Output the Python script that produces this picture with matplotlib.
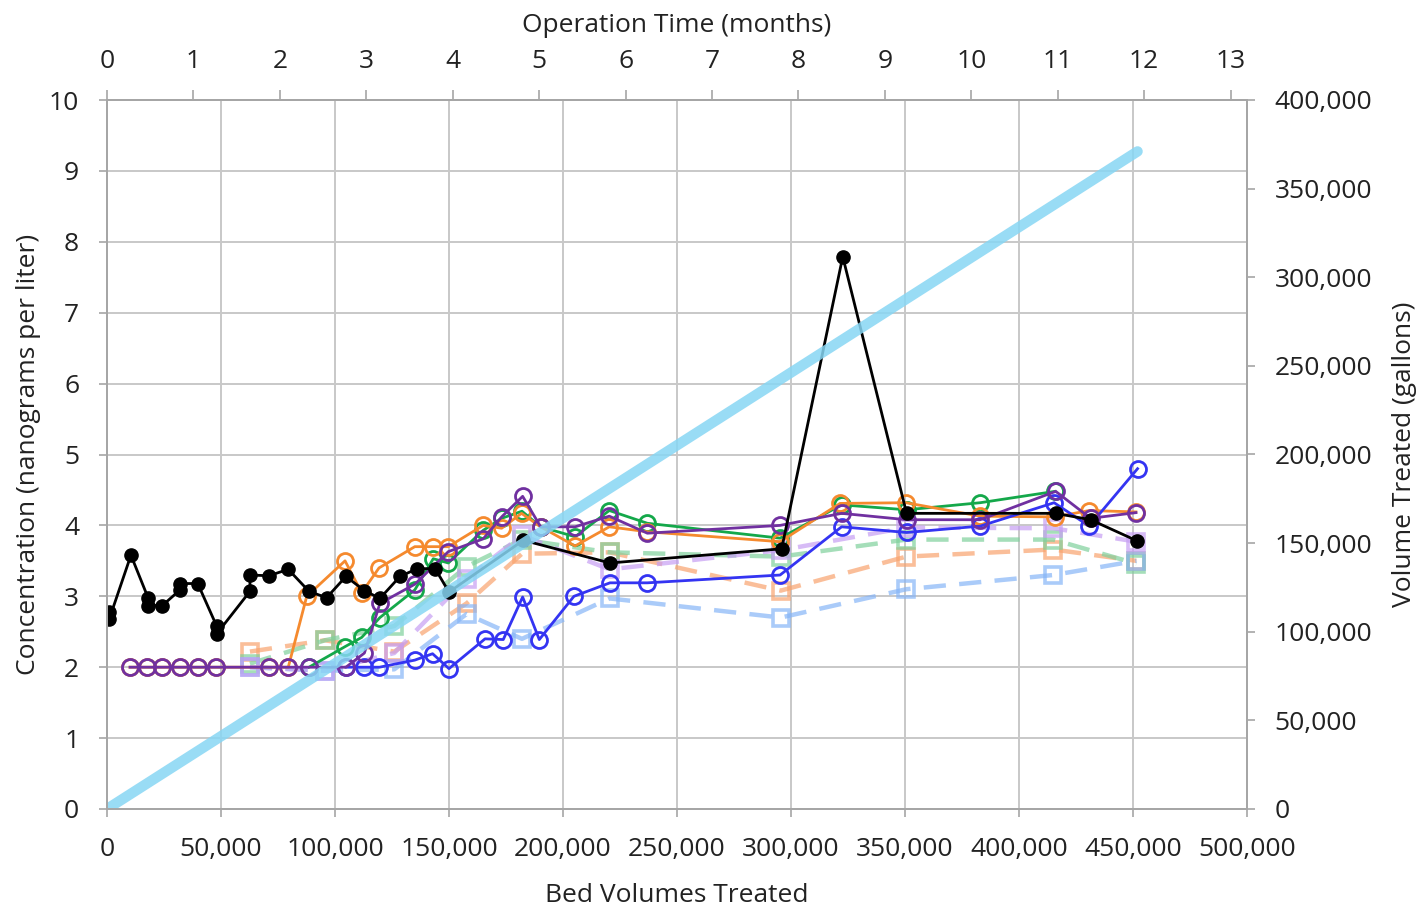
import matplotlib
matplotlib.use("Agg")
from matplotlib import pyplot as plt
import numpy as np

plt.rcParams['font.family'] = ['Open Sans', 'DejaVu Sans']

# black filled circles
bv_black = [1000, 1000, 10500, 18000, 18000, 24300, 32000, 32000, 39800, 48100, 48100,
            62700, 62700, 71000, 79500, 88600, 96300, 104800, 112900, 119700, 128500,
            136100, 143900, 150000, 182600, 220600, 295900, 322700, 350700, 416100,
            431400, 451900]
conc_black = [2.78, 2.68, 3.58, 2.98, 2.87, 2.87, 3.09, 3.18, 3.18, 2.58, 2.47,
              3.07, 3.30, 3.29, 3.38, 3.07, 2.98, 3.28, 3.08, 2.97, 3.28,
              3.39, 3.39, 3.06, 3.79, 3.47, 3.67, 7.79, 4.17, 4.17,
              4.08, 3.78]

# dark purple open circles
bv_purple = [10100, 17400, 24000, 32000, 39800, 47800, 71000, 79500, 88600, 104800,
             112900, 119700, 135000, 149700, 165000, 173100, 182300, 190200, 205300,
             220300, 237000, 295200, 322200, 350700, 383000, 416100, 431400, 451300]
conc_purple = [2.0, 2.0, 2.0, 2.0, 2.0, 2.0, 2.0, 2.0, 2.0, 2.0,
               2.2, 2.9, 3.17, 3.63, 3.81, 4.12, 4.41, 3.98, 3.98,
               4.13, 3.89, 4.0, 4.17, 4.08, 4.08, 4.48, 4.1, 4.18]

# orange open circles
bv_orange = [10100, 17400, 24000, 32000, 39800, 47800, 71000, 79500, 87600, 104400,
             111700, 119300, 135000, 143100, 149700, 165000, 173100, 181800, 190200,
             205300, 220300, 237000, 295200, 321500, 350400, 383000, 415800, 430800, 451300]
conc_orange = [2.0, 2.0, 2.0, 2.0, 2.0, 2.0, 2.0, 2.0, 3.0, 3.5,
               3.05, 3.4, 3.7, 3.7, 3.7, 4.0, 3.96, 4.17, 3.98,
               3.71, 3.98, 3.91, 3.77, 4.31, 4.32, 4.13, 4.12, 4.21, 4.19]

# green open circles
bv_green = [88600, 104400, 111700, 119700, 135000, 143100, 149700, 165000, 173100,
            182000, 190200, 205300, 220300, 237000, 295200, 322200, 350700, 383000, 415800]
conc_green = [2.0, 2.29, 2.42, 2.70, 3.09, 3.53, 3.47, 3.93, 4.10,
              4.20, 3.98, 3.84, 4.21, 4.03, 3.82, 4.29, 4.22, 4.32, 4.48]

# blue open circles
bv_blue = [104800, 112600, 119500, 135000, 142800, 150000, 165800, 173800, 182300,
           189600, 204800, 220600, 237000, 295200, 322200, 350700, 383000, 415400,
           430800, 452000]
conc_blue = [2.0, 2.0, 2.0, 2.10, 2.19, 1.98, 2.40, 2.39, 2.99,
             2.39, 3.0, 3.19, 3.19, 3.30, 3.98, 3.90, 3.99, 4.32,
             3.99, 4.80]

# dashed series with open squares
bv_sq = [62700, 95600, 126000, 157700, 182000, 220400, 295500, 350600, 415000, 451500]
orange_sq = [2.22, 2.38, 2.22, 2.90, 3.60, 3.62, 3.08, 3.56, 3.66, 3.50]
green_sq = [2.05, 2.38, 2.58, 3.42, 3.80, 3.62, 3.56, 3.80, 3.80, 3.46]
blue_sq = [2.0, 1.95, 1.97, 2.75, 2.40, 2.97, 2.70, 3.10, 3.30, 3.50]
purple_sq = [2.0, 1.95, 2.20, 3.25, 3.86, 3.38, 3.65, 3.97, 3.96, 3.77]

# cumulative volume (right axis)
bv_volume = [0, 452000]
gallons = [0, 371000]

month_ticks = list(range(0, 14))

text_col = '#222222'
spine_col = '#a6a6a6'
fs = 19

fig = plt.figure(figsize=(14.19, 9.06), dpi=100)
ax = fig.add_axes([107/1419, 1-809/906, 1140/1419, 709/906])

ax.grid(True, color='#c8c8c8', linewidth=1.4)
ax.set_axisbelow(True)

dashed = [(orange_sq, '#f9a36e'), (green_sq, '#7fd09c'),
          (blue_sq, '#86b5f7'), (purple_sq, '#c69ef3')]
for vals, c in dashed:
    ax.plot(bv_sq, vals, color=c, lw=3.2, ls=(0, (5, 3)), marker='s', ms=11.5,
            mfc='none', mec=c, mew=2.6, alpha=0.7)

circ = dict(marker='o', ms=11.5, mfc='none', mew=2.0, lw=2.0)
ax.plot(bv_green, conc_green, color='#14a84a', **circ)
ax.plot(bv_orange, conc_orange, color='#f58a2e', **circ)
ax.plot(bv_blue, conc_blue, color='#3434f2', **circ)
ax.plot(bv_purple, conc_purple, color='#7030a0', **circ)
ax.plot(bv_black, conc_black, color='black', marker='o', ms=9.5, lw=2.0)

ax.set_xlim(0, 500000)
ax.set_ylim(0, 10)
ax.set_xticks(np.arange(0, 500001, 50000))
ax.set_yticks(np.arange(0, 11, 1))
ax.xaxis.set_major_formatter(matplotlib.ticker.FuncFormatter(lambda v, p: f"{int(v):,}"))
ax.tick_params(axis='both', labelsize=fs, colors=text_col, length=6, width=1.2,
               color=spine_col, pad=14)
ax.set_xlabel('Bed Volumes Treated', fontsize=fs, color=text_col, labelpad=15)
ax.set_ylabel('Concentration (nanograms per liter)', fontsize=fs, color=text_col, labelpad=6)

ax2 = ax.twinx()
ax2.plot(bv_volume, gallons, color='#87d6f4', lw=7.5, alpha=0.85, solid_capstyle='round')
ax2.set_ylim(0, 400000)
ax2.set_yticks(np.arange(0, 400001, 50000))
ax2.yaxis.set_major_formatter(matplotlib.ticker.FuncFormatter(lambda v, p: f"{int(v):,}"))
ax2.tick_params(axis='y', labelsize=fs, colors=text_col, length=6, width=1.2,
                color=spine_col, pad=14)
ax2.set_ylabel('Volume Treated (gallons)', fontsize=fs, color=text_col, labelpad=14)

ax3 = ax.twiny()
ax3.set_xlim(0, 13.19)
ax3.set_xticks(month_ticks)
ax3.tick_params(axis='x', labelsize=fs, colors=text_col, length=7, width=1.2,
                color=spine_col, pad=12)
ax3.set_xlabel('Operation Time (months)', fontsize=fs, color=text_col, labelpad=12)

for a in (ax, ax2, ax3):
    for s in a.spines.values():
        s.set_color(spine_col)
        s.set_linewidth(1.3)

fig.savefig('out.png', dpi=100)
